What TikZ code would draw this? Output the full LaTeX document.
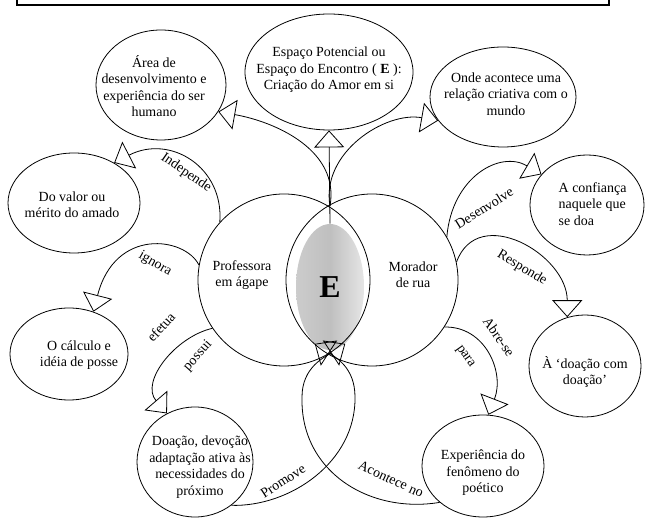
\documentclass[tikz,border=0pt]{standalone}
\usepackage{fontspec}
\setmainfont{Liberation Serif}
\usetikzlibrary{shapes.geometric,arrows.meta,positioning}

\tikzset{
  bolha/.style={draw, ellipse, inner sep=0pt},
  texto/.style={align=center, font=\fontsize{14}{16.5}\selectfont},
  rotulo/.style={font=\fontsize{14}{16}\selectfont, inner sep=0pt},
  seta/.style={-{Triangle[open,length=17bp,width=30bp]}},
}

\begin{document}
\begin{tikzpicture}[x=1bp,y=1bp,line width=0.8bp]
\useasboundingbox (0,0) rectangle (647,522);
\draw[line width=1.4bp] (17,517) rectangle (609,540);
% circulos centrais e o espaco E
\node[ellipse,minimum width=68bp,minimum height=126bp,left color=gray!40,right color=gray!20,middle color=gray!50] (E) at (330,235) {\fontsize{32}{32}\selectfont\bfseries E};
\node[draw,circle,minimum size=172bp] (prof) at (284,242) {};
\node[draw,circle,minimum size=172bp] (morador) at (372,242) {};
\node[texto] (tprof) at (242,247) {Professora\\em ágape};
\node[texto] (tmor) at (413,247) {Morador\\de rua};
\coordinate (topo) at (330,316);
% bolhas
\node[bolha,minimum width=168bp,minimum height=116bp] (espaco) at (329,450) {};
\node[texto] (tespaco) at (329,452) {Espaço Potencial ou\\Espaço do Encontro ( \textbf{E} ):\\Criação do Amor em si};
\node[bolha,minimum width=130bp,minimum height=110bp] (area) at (161,437) {};
\node[texto] (tarea) at (154,436) {Área de\\desenvolvimento e\\experiência do ser\\humano};
\node[bolha,minimum width=146bp,minimum height=100bp] (onde) at (503,425) {};
\node[texto] (tonde) at (506,428) {Onde acontece uma\\relação criativa com o\\mundo};
\node[bolha,minimum width=132bp,minimum height=100bp] (valor) at (74,319) {};
\node[texto] (tvalor) at (72,317) {Do valor ou\\mérito do amado};
\node[bolha,minimum width=114bp,minimum height=100bp] (confianca) at (587,317) {};
\node[texto,align=left,anchor=west] (tconfianca) at (555,318) {A confiança\\naquele que\\se doa};
\node[bolha,minimum width=118bp,minimum height=92bp] (calculo) at (69,168) {};
\node[texto] (tcalculo) at (79,167) {O cálculo e\\idéia de posse};
\node[bolha,minimum width=112bp,minimum height=102bp] (retorno) at (585,156) {};
\node[texto] (tretorno) at (585,150) {À ‘doação com\\doação’};
\node[bolha,minimum width=116bp,minimum height=110bp] (doacao) at (195,60) {};
\node[texto] (tdoacao) at (200,55) {Doação, devoção\\adaptação ativa às\\necessidades do\\próximo};
\node[bolha,minimum width=122bp,minimum height=102bp] (experiencia) at (483,56) {};
\node[texto] (texperiencia) at (483,49) {Experiência do\\fenômeno do\\poético};
% ligacoes
\draw[seta] (E.north) -- (espaco.south);
\draw[seta] (topo) to[out=80,in=-10] (area.-25);
\draw[seta] (topo) to[out=100,in=170] (onde.200);
\draw[seta] (prof.138) .. controls (224,355) and (170,388) .. (valor.45);
\draw[seta] (prof.170) .. controls (185,285) and (115,295) .. (calculo.60);
\draw[seta] (prof.214) .. controls (175,185) and (140,140) .. (doacao.120);
\draw[seta] (morador.30) .. controls (452,345) and (500,372) .. (confianca.146);
\draw[seta] (morador.12) to[out=70,in=90,looseness=1.3] (retorno.110);
\draw[seta] (morador.-33) .. controls (485,196) and (505,150) .. (experiencia.84);
\draw[seta] (doacao.-50) .. controls (290,15) and (356,60) .. (355,125) .. controls (355,155) and (335,165) .. (E.-105);
\draw[seta] (experiencia.-140) .. controls (370,8) and (300,50) .. (302,125) .. controls (302,155) and (325,165) .. (E.-75);
% rotulos
\node[rotulo,rotate=-35] (lind) at (186,349) {Independe};
\node[rotulo,rotate=-30] (lign) at (155,258) {ignora};
\node[rotulo,rotate=48] (lefe) at (161,195) {efetua};
\node[rotulo,rotate=48] (lpos) at (198,166) {possui};
\node[rotulo,rotate=32] (ldes) at (484,314) {Desenvolve};
\node[rotulo,rotate=-31] (lres) at (522,254) {Responde};
\node[rotulo,rotate=-55] (labr) at (499,185) {Abre-se};
\node[rotulo,rotate=-55] (lpar) at (465,165) {para};
\node[rotulo,rotate=33] (lpro) at (283,41) {Promove};
\node[rotulo,rotate=-25] (laco) at (391,43) {Acontece no};
\end{tikzpicture}
\end{document}
